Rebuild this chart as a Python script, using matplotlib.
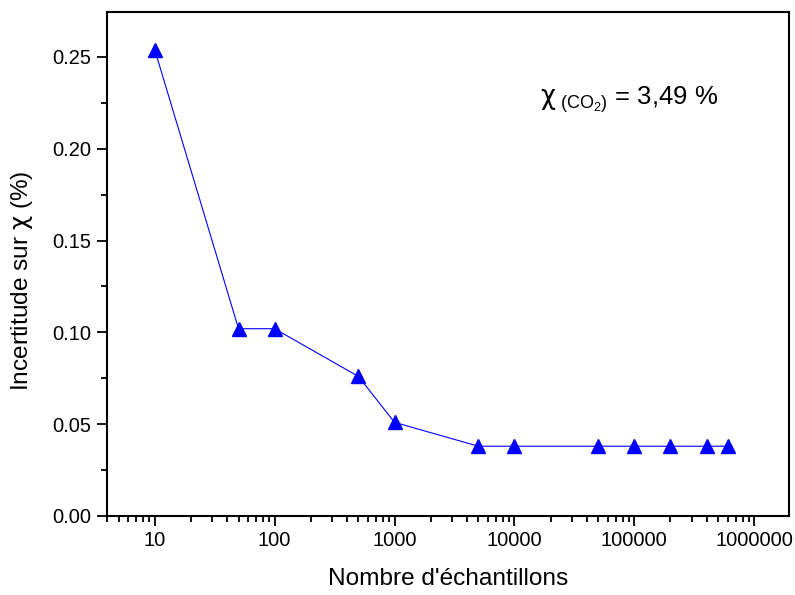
import matplotlib
matplotlib.use("Agg")
import matplotlib.pyplot as plt
from matplotlib.ticker import LogLocator, FixedLocator, FuncFormatter, MultipleLocator, NullFormatter

plt.rcParams['font.family'] = ['Liberation Sans', 'DejaVu Sans']
plt.rcParams['mathtext.fontset'] = 'custom'
plt.rcParams['mathtext.rm'] = 'Liberation Sans'
plt.rcParams['mathtext.it'] = 'Liberation Sans:italic'
plt.rcParams['mathtext.sf'] = 'DejaVu Sans'

n_samples = [10, 50, 100, 500, 1000, 5000, 10000, 50000, 100000, 200000, 400000, 600000]
uncertainty = [0.254, 0.102, 0.102, 0.076, 0.051, 0.038, 0.038, 0.038, 0.038, 0.038, 0.038, 0.038]
x_ticks = [10, 100, 1000, 10000, 100000, 1000000]
y_ticks = [0.00, 0.05, 0.10, 0.15, 0.20, 0.25]

fig = plt.figure(figsize=(7.95, 5.95), dpi=100)
ax = fig.add_axes([0.1346, 0.1328, 0.8579, 0.8470])

ax.plot(n_samples, uncertainty, color='blue', lw=0.8, marker='^', ms=9.5,
        markerfacecolor='blue', markeredgecolor='blue')

ax.set_xscale('log')
ax.set_xlim(4, 1.95e6)
ax.set_ylim(0, 0.2745)

ax.xaxis.set_major_locator(FixedLocator(x_ticks))
ax.xaxis.set_major_formatter(FuncFormatter(lambda v, p: f"{int(round(v))}"))
ax.xaxis.set_minor_locator(LogLocator(base=10, subs=range(2, 10), numticks=20))
ax.xaxis.set_minor_formatter(NullFormatter())

ax.yaxis.set_major_locator(FixedLocator(y_ticks))
ax.yaxis.set_major_formatter(FuncFormatter(lambda v, p: f"{v:.2f}"))
ax.yaxis.set_minor_locator(MultipleLocator(0.025))

for s in ax.spines.values():
    s.set_linewidth(1.5)

ax.tick_params(which='both', direction='out', top=False, right=False, width=1.3)
ax.tick_params(which='major', length=7, labelsize=14.5, pad=4)
ax.tick_params(which='minor', length=4)

ax.set_xlabel("Nombre d'échantillons", fontsize=17.6, labelpad=13)
ax.set_ylabel(r"Incertitude sur $\mathsf{\chi}$ (%)", fontsize=17.6)
ax.yaxis.set_label_coords(-0.106, 0.466)

ax.text(0.635, 0.815, r'$\mathsf{\chi}_{\rm\ (CO_2)}$ = 3,49 %', transform=ax.transAxes,
        fontsize=18.5, ha='left', va='baseline')

fig.savefig('out.png', dpi=100)
